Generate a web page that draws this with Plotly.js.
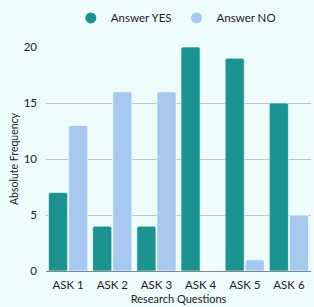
<!DOCTYPE html>
<html><head><meta charset="utf-8">
<script src="https://cdn.plot.ly/plotly-3.0.1.min.js"></script>
<style>html,body{margin:0;padding:0;background:#eefdfb;}</style>
</head><body>
<div id="chart" style="width:314px;height:307px;"></div>
<script>
const categories = ["ASK 1","ASK 2","ASK 3","ASK 4","ASK 5","ASK 6"];
const yesValues = [7,4,4,20,19,15];
const noValues = [13,16,16,0,1,5];
const yTicks = [0,5,10,15,20];
const seriesNames = ["Answer YES","Answer NO"];
const seriesColors = ["#1a9391","#a8c9ef"];

const traces = [
  {type:"bar", name:seriesNames[0], x:categories, y:yesValues, showlegend:false,
   marker:{color:seriesColors[0], line:{color:"#ffffff", width:0.6}, cornerradius:2}},
  {type:"bar", name:seriesNames[1], x:categories, y:noValues, showlegend:false,
   marker:{color:seriesColors[1], line:{color:"#ffffff", width:0.6}, cornerradius:2}},
  {type:"scatter", mode:"markers", name:seriesNames[0], x:[null], y:[null],
   marker:{color:seriesColors[0], size:11, symbol:"circle"}},
  {type:"scatter", mode:"markers", name:seriesNames[1], x:[null], y:[null],
   marker:{color:seriesColors[1], size:11, symbol:"circle"}}
];
const layout = {
  width:314, height:307,
  paper_bgcolor:"#eefdfb", plot_bgcolor:"#eefdfb",
  font:{family:"Lato, sans-serif", size:11.5, color:"#222"},
  margin:{l:46, r:3, t:31, b:36},
  barmode:"group", bargap:0.09, bargroupgap:0.05,
  showlegend:true,
  legend:{orientation:"h", x:0.49, xanchor:"center", y:1.13, yanchor:"middle",
          font:{size:11.5}, itemwidth:30, bgcolor:"rgba(0,0,0,0)"},
  xaxis:{type:"category", title:{text:"Research Questions", font:{size:11}, standoff:5},
         showgrid:false, ticks:"", showline:false, zeroline:false, tickfont:{size:11.5},
         ticklabelstandoff:5},
  yaxis:{title:{text:"Absolute Frequency", font:{size:10.5}, standoff:2},
         range:[0,20], tickvals:yTicks, ticktext:yTicks.map(String),
         gridcolor:"#bcc8c6", gridwidth:1, zeroline:true, zerolinecolor:"#7f8a88",
         zerolinewidth:1, ticks:"", tickfont:{size:11.5}, ticklabelstandoff:8}
};
Plotly.newPlot("chart", traces, layout, {displayModeBar:false, staticPlot:true});
</script>
</body></html>
